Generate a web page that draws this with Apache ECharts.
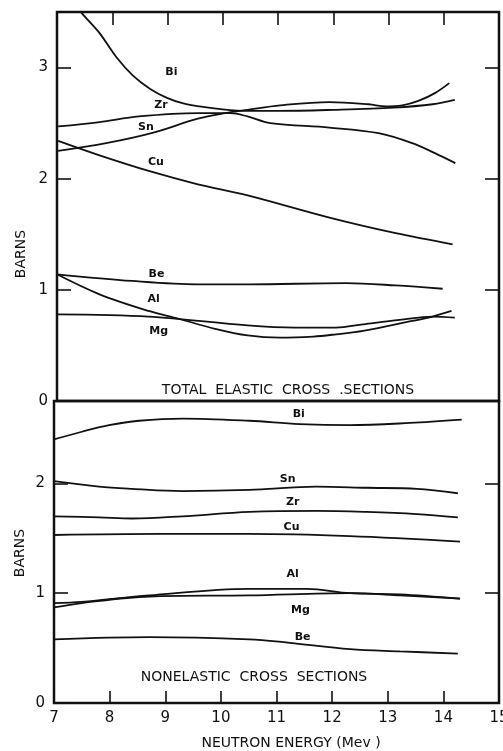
<!DOCTYPE html>
<html><head><meta charset="utf-8">
<script src="https://cdn.jsdelivr.net/npm/echarts/dist/echarts.min.js"></script>
<style>html,body{margin:0;padding:0;background:#fff}#c{width:503px;height:751px}</style>
</head><body><div id="c"></div>
<script>
// ---------- DATA ----------
// Energy axis
const xMin = 7, xMax = 15;
const xTickLabels = ['7','8','9','10','11','12','13','14','15'];
// Upper panel: TOTAL ELASTIC CROSS SECTIONS (barns)
const elBiE = [7.3, 7.45, 7.77, 8.08, 8.37, 8.68, 8.98, 9.27, 9.58, 9.88, 10.45, 11.0, 12.0, 13.1, 13.8, 14.2];
const elBiV = [3.6, 3.49, 3.31, 3.09, 2.93, 2.81, 2.73, 2.68, 2.65, 2.63, 2.61, 2.61, 2.62, 2.64, 2.67, 2.71];
const elZrE = [7.02, 7.77, 8.48, 9.55, 10.14, 10.45, 10.86, 11.93, 12.82, 13.43, 13.84, 14.21];
const elZrV = [2.47, 2.51, 2.56, 2.59, 2.59, 2.56, 2.50, 2.46, 2.41, 2.32, 2.23, 2.14];
const elSnE = [7.02, 7.89, 8.71, 9.55, 10.04, 10.45, 11.04, 11.93, 12.64, 12.95, 13.25, 13.54, 13.84, 14.1];
const elSnV = [2.25, 2.32, 2.41, 2.54, 2.59, 2.62, 2.66, 2.69, 2.67, 2.65, 2.66, 2.70, 2.77, 2.86];
const elCuE = [7.02, 7.77, 8.66, 9.55, 10.45, 11.93, 13.13, 14.16];
const elCuV = [2.34, 2.21, 2.07, 1.95, 1.85, 1.65, 1.51, 1.41];
const elBeE = [7.0, 8.36, 9.55, 10.45, 12.23, 13.13, 13.98];
const elBeV = [1.14, 1.08, 1.05, 1.05, 1.06, 1.04, 1.01];
const elAlE = [7.0, 7.77, 8.66, 9.2, 9.86, 10.45, 11.04, 11.64, 12.05, 12.54, 13.43, 13.8, 14.14];
const elAlV = [1.14, 0.96, 0.81, 0.74, 0.65, 0.59, 0.57, 0.58, 0.60, 0.63, 0.72, 0.76, 0.81];
const elMgE = [7.0, 8.66, 10.45, 11.3, 12.05, 12.54, 13.2, 13.8, 14.2];
const elMgV = [0.78, 0.76, 0.68, 0.66, 0.66, 0.69, 0.73, 0.76, 0.75];
// Lower panel: NONELASTIC CROSS SECTIONS (barns)
const neBiE = [7.0, 7.5, 7.99, 8.53, 9.31, 10.51, 11.41, 12.32, 13.4, 14.33];
const neBiV = [2.40, 2.47, 2.53, 2.57, 2.59, 2.57, 2.54, 2.53, 2.55, 2.58];
const neSnE = [7.0, 7.81, 8.41, 9.31, 10.51, 11.72, 12.62, 13.52, 14.26];
const neSnV = [2.02, 1.97, 1.95, 1.93, 1.94, 1.97, 1.96, 1.95, 1.91];
const neZrE = [7.0, 7.81, 8.41, 9.31, 10.51, 11.72, 12.62, 13.52, 14.26];
const neZrV = [1.70, 1.69, 1.68, 1.70, 1.74, 1.75, 1.74, 1.72, 1.69];
const neCuE = [7.0, 8.89, 10.51, 12.32, 14.3];
const neCuV = [1.53, 1.54, 1.54, 1.52, 1.47];
const neAlE = [7.0, 7.5, 8.71, 10.51, 11.54, 12.32, 13.22, 14.3];
const neAlV = [0.91, 0.92, 0.98, 1.04, 1.04, 1.00, 0.99, 0.95];
const neMgE = [7.0, 7.5, 8.71, 10.51, 12.32, 13.22, 14.3];
const neMgV = [0.87, 0.91, 0.97, 0.98, 1.00, 0.98, 0.95];
const neBeE = [7.0, 8.71, 10.51, 11.2, 12.32, 13.22, 14.26];
const neBeV = [0.58, 0.60, 0.58, 0.55, 0.49, 0.47, 0.45];
// Curve labels (data coordinates)
const elLabelNames = ['Bi','Zr','Sn','Cu','Be','Al','Mg'];
const elLabelE = [9.07, 8.88, 8.61, 8.79, 8.80, 8.75, 8.84];
const elLabelV = [2.96, 2.66, 2.46, 2.15, 1.14, 0.92, 0.63];
const neLabelNames = ['Bi','Sn','Zr','Cu','Al','Mg','Be'];
const neLabelE = [11.40, 11.20, 11.29, 11.27, 11.29, 11.43, 11.47];
const neLabelV = [2.63, 2.04, 1.83, 1.60, 1.17, 0.85, 0.60];
const elTitle = 'TOTAL  ELASTIC  CROSS  .SECTIONS';
const neTitle = 'NONELASTIC  CROSS  SECTIONS';
const yName = 'BARNS';
const xName = 'NEUTRON ENERGY (Mev )';

// ---------- CHART ----------
const FONT = '"DejaVu Sans", "Liberation Sans", sans-serif';
const INK = '#111';
const pairs = (E, V) => E.map((e, i) => [e, V[i]]);
function line(E, V, lower) {
  return {
    type: 'line', data: pairs(E, V), symbol: 'none', smooth: 0.35, clip: true, silent: true,
    xAxisIndex: lower ? 1 : 0, yAxisIndex: lower ? 2 : 0,
    lineStyle: { color: INK, width: 1.8 }
  };
}
const chart = echarts.init(document.getElementById('c'), null, { renderer: 'canvas' });
const tickStyle = { color: INK, width: 1.6 };
const noLine = { show: false, onZero: false };
const option = {
  backgroundColor: '#fff',
  animation: false,
  grid: [
    { left: 57, right: 4, top: 12, height: 389, show: true, borderColor: INK, borderWidth: 2.5, containLabel: false, outerBoundsMode: 'none' },
    { left: 54, right: 4, top: 401, height: 302, show: true, borderColor: INK, borderWidth: 2.5, containLabel: false, outerBoundsMode: 'none' }
  ],
  xAxis: [
    { type: 'value', gridIndex: 0, min: xMin, max: xMax, interval: 1, position: 'top',
      axisLine: noLine, axisTick: { show: true, inside: true, length: 13, lineStyle: tickStyle },
      axisLabel: { show: false }, splitLine: { show: false } },
    { type: 'value', gridIndex: 1, min: xMin, max: xMax, interval: 1, position: 'bottom',
      axisLine: noLine, axisTick: { show: true, inside: true, length: 12, lineStyle: tickStyle },
      axisLabel: { show: true, color: INK, fontFamily: FONT, fontSize: 15, margin: 8,
        formatter: v => xTickLabels[Math.round(v - xMin)] || '' },
      splitLine: { show: false } }
  ],
  yAxis: [
    { type: 'value', gridIndex: 0, min: 0, max: 3.5, interval: 1, position: 'left',
      axisLine: noLine, axisTick: { show: true, inside: true, length: 14, lineStyle: tickStyle },
      axisLabel: { show: true, color: INK, fontFamily: FONT, fontSize: 15, margin: 9,
        formatter: v => (Number.isInteger(v) ? String(v) : '') },
      splitLine: { show: false } },
    { type: 'value', gridIndex: 0, min: 0, max: 3.5, interval: 1, position: 'right',
      axisLine: noLine, axisTick: { show: true, inside: true, length: 14, lineStyle: tickStyle },
      axisLabel: { show: false }, splitLine: { show: false } },
    { type: 'value', gridIndex: 1, min: 0, max: 2.75, interval: 1, position: 'left',
      axisLine: noLine, axisTick: { show: true, inside: true, length: 14, lineStyle: tickStyle },
      axisLabel: { show: true, color: INK, fontFamily: FONT, fontSize: 15, margin: 9,
        formatter: v => (Number.isInteger(v) ? String(v) : '') },
      splitLine: { show: false } },
    { type: 'value', gridIndex: 1, min: 0, max: 2.75, interval: 1, position: 'right',
      axisLine: noLine, axisTick: { show: true, inside: true, length: 14, lineStyle: tickStyle },
      axisLabel: { show: false }, splitLine: { show: false } }
  ],
  series: [
    line(elBiE, elBiV, false), line(elZrE, elZrV, false), line(elSnE, elSnV, false),
    line(elCuE, elCuV, false), line(elBeE, elBeV, false), line(elAlE, elAlV, false),
    line(elMgE, elMgV, false),
    line(neBiE, neBiV, true), line(neSnE, neSnV, true), line(neZrE, neZrV, true),
    line(neCuE, neCuV, true), line(neAlE, neAlV, true), line(neMgE, neMgV, true),
    line(neBeE, neBeV, true)
  ]
};
chart.setOption(option);

function txt(x, y, text, size, weight, rot) {
  return { type: 'text', x: x, y: y, rotation: rot || 0, silent: true, z: 10,
    style: { text: text, fill: INK, font: (weight || 'normal') + ' ' + size + 'px ' + FONT,
      align: 'center', verticalAlign: 'middle' } };
}
const g = [];
elLabelNames.forEach((n, i) => {
  const p = chart.convertToPixel({ xAxisIndex: 0, yAxisIndex: 0 }, [elLabelE[i], elLabelV[i]]);
  g.push(txt(p[0], p[1], n, 11, 'bold'));
});
neLabelNames.forEach((n, i) => {
  const p = chart.convertToPixel({ xAxisIndex: 1, yAxisIndex: 2 }, [neLabelE[i], neLabelV[i]]);
  g.push(txt(p[0], p[1], n, 11, 'bold'));
});
g.push(txt(288, 390, elTitle, 14));
g.push(txt(254, 677, neTitle, 14));
g.push(txt(21, 254, yName, 14, 'normal', Math.PI / 2));
g.push(txt(20, 553, yName, 14, 'normal', Math.PI / 2));
g.push(txt(291, 743, xName, 14));
chart.setOption({ graphic: g });
</script></body></html>
